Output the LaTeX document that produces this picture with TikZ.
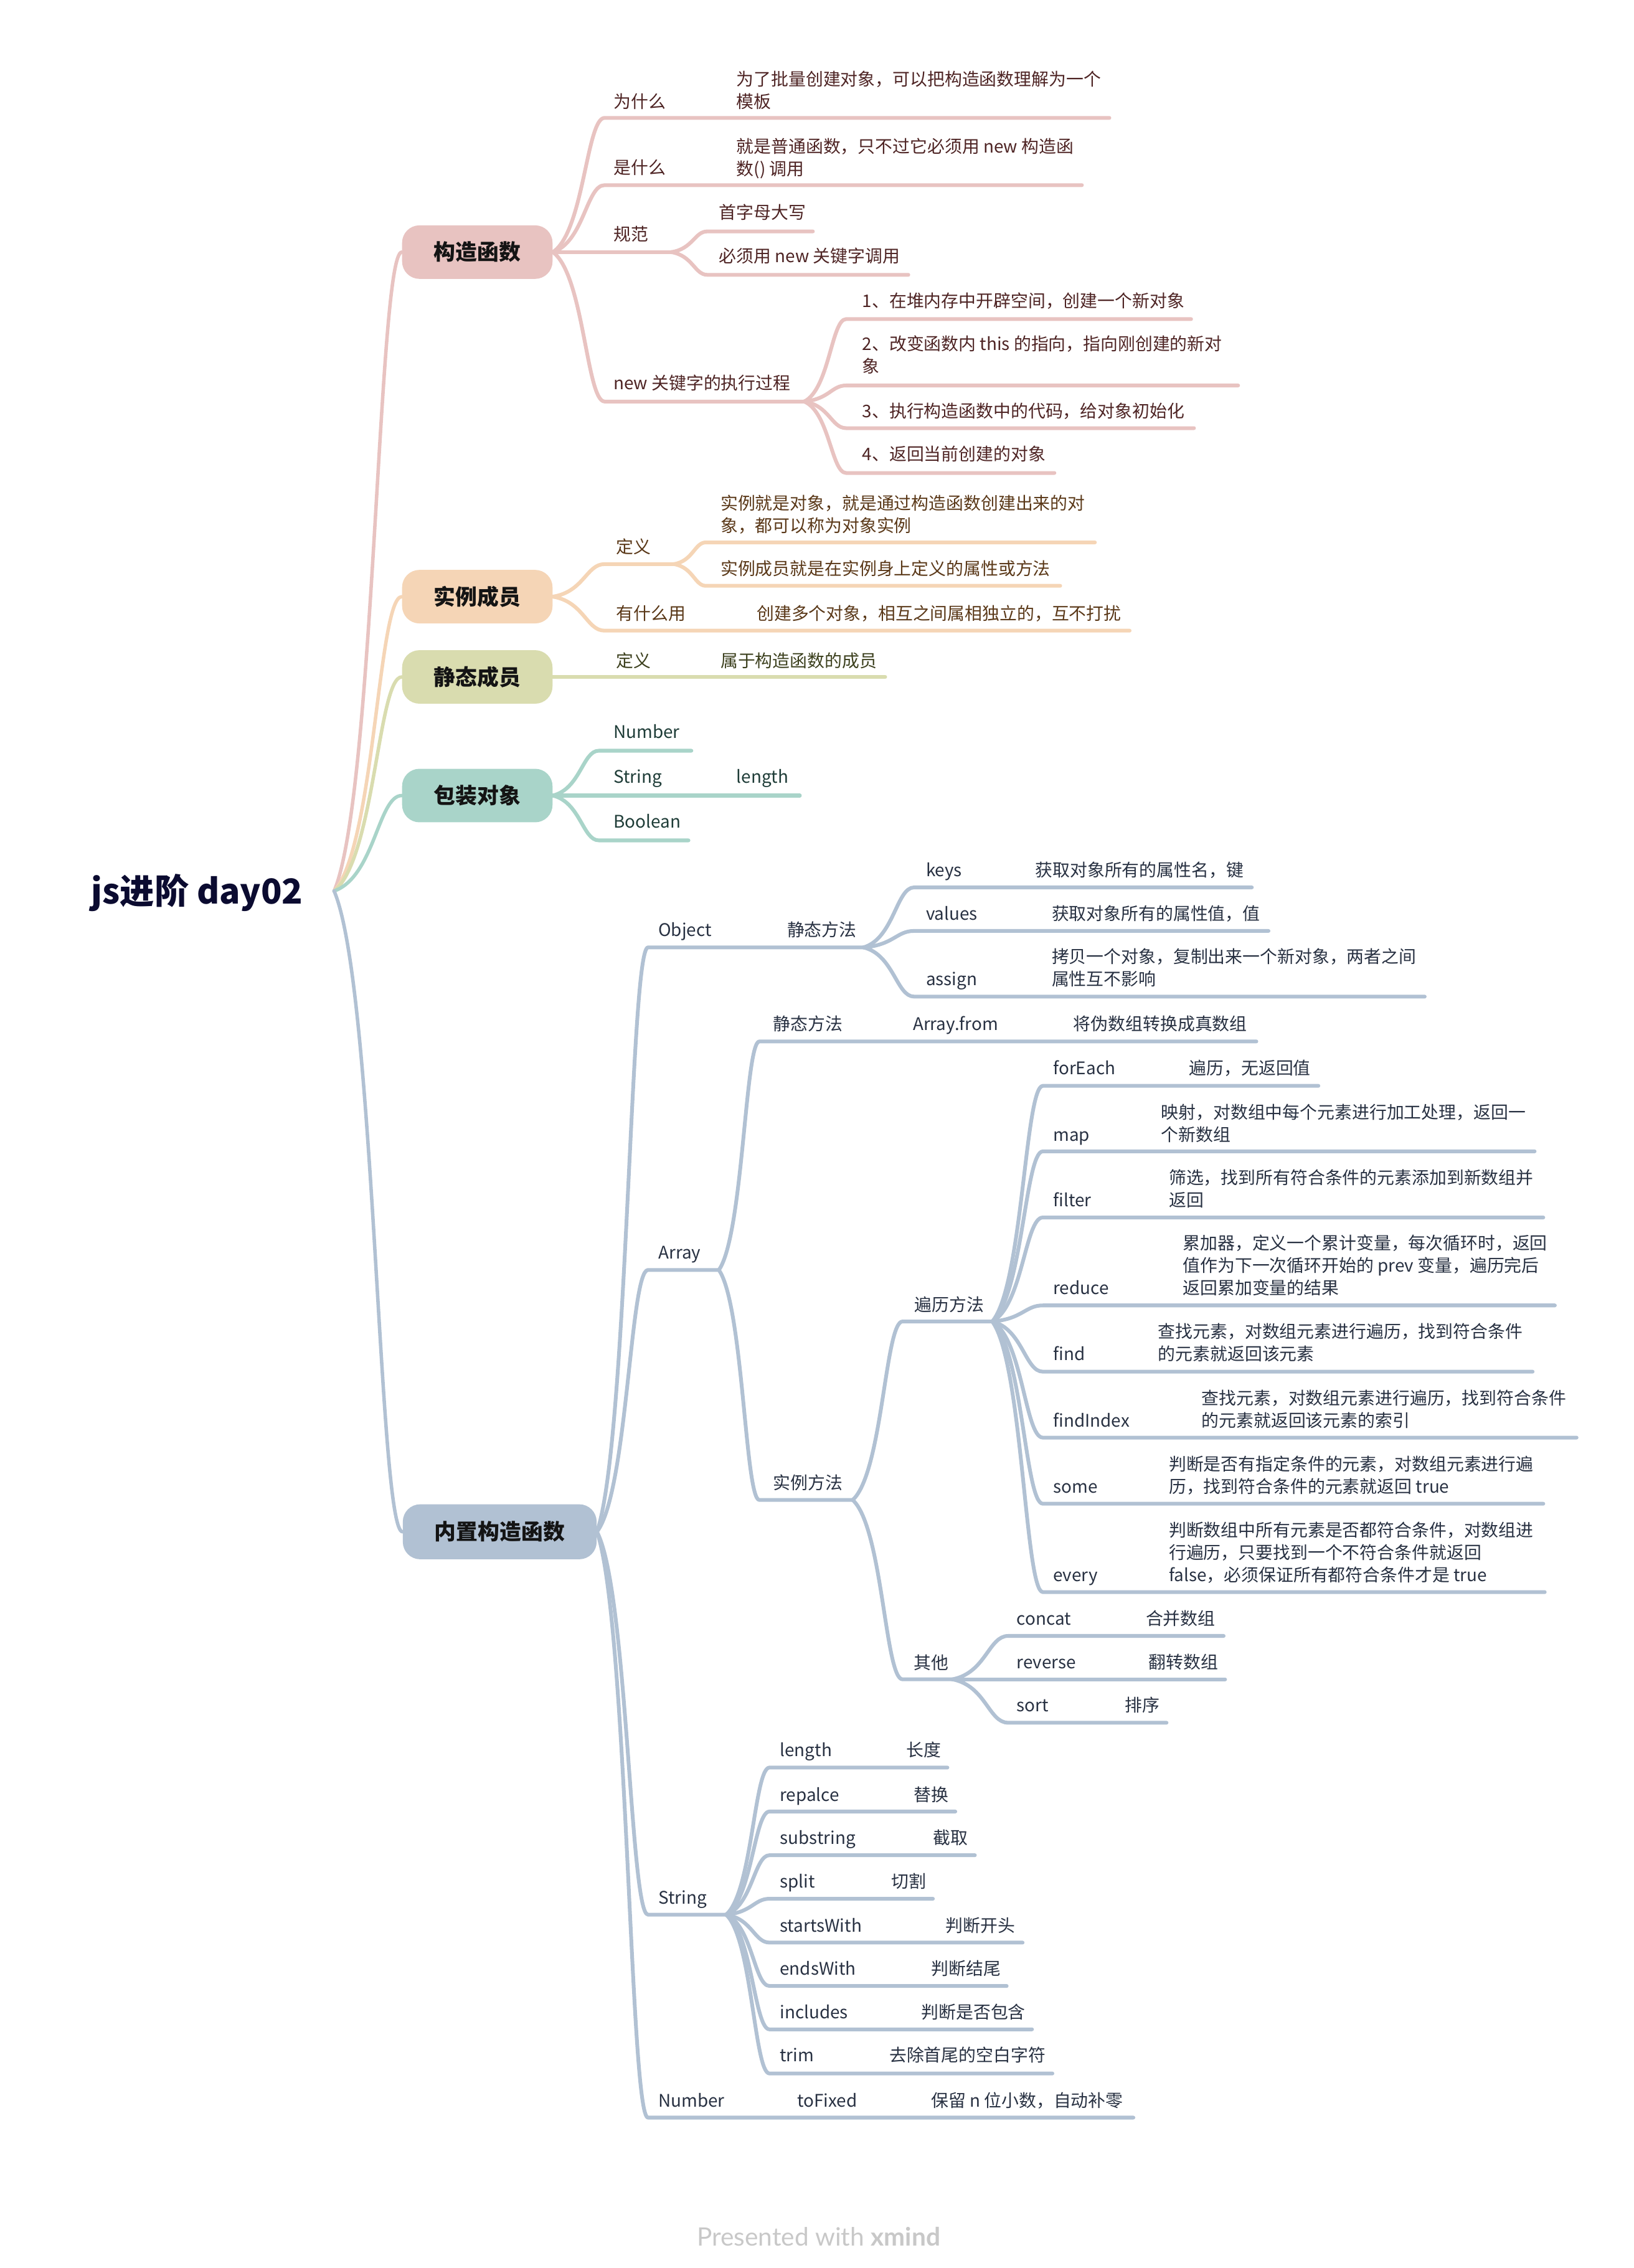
\documentclass[tikz,border=0pt]{standalone}
\usepackage{fontspec}
\setmainfont{Noto Sans CJK SC}
\newfontfamily\footfont{Lato}
\usetikzlibrary{calc}
\pgfdeclarelayer{bg}
\pgfsetlayers{bg,main}
\definecolor{rootc}{HTML}{0B0B30}
\definecolor{pkf}{HTML}{E8C3C1}
\definecolor{pkt}{HTML}{4E2424}
\definecolor{orf}{HTML}{F5D5B6}
\definecolor{ort}{HTML}{5A3818}
\definecolor{olf}{HTML}{D9DCAF}
\definecolor{olt}{HTML}{3C401E}
\definecolor{tlf}{HTML}{A9D4C9}
\definecolor{tlt}{HTML}{1E3C37}
\definecolor{blf}{HTML}{B1C1D3}
\definecolor{blt}{HTML}{283142}
\definecolor{footc}{HTML}{C8C8C8}
\newcommand{\ml}[1]{\begin{tabular}[t]{@{}l@{}}#1\end{tabular}}
\tikzset{
  br/.style={line width=2.6pt, line cap=round, line join=round},
  mainbr/.style={line width=2.4pt, line cap=round},
  curvy/.style={to path={let \p1=(\tikztostart), \p2=(\tikztotarget) in
     .. controls ({\x1+0.6*(\x2-\x1)},{\y1+0.15*(\y2-\y1)}) and ({\x1+0.65*(\x2-\x1)},{\y2}) .. (\tikztotarget) \tikztonodes}},
  lbl/.style={anchor=base west, inner sep=0pt, font=\fontsize{12}{15.5}\selectfont},
  pkl/.style={lbl, text=pkt},
  orl/.style={lbl, text=ort},
  oll/.style={lbl, text=olt},
  tll/.style={lbl, text=tlt},
  bll/.style={lbl, text=blt},
  topic/.style={rounded corners=12pt, minimum width=104pt, minimum height=37pt, inner sep=0pt,
     font=\fontsize{15}{18}\selectfont\bfseries, text=black!92},
}
\begin{document}
\begin{tikzpicture}[x=1pt,y=-1pt]
\useasboundingbox (0,0) rectangle (1129.7,1568);

% ---------- root ----------
\node[anchor=base west, inner sep=0pt, font=\fontsize{23.8}{28}\selectfont\bfseries, text=rootc] (root) at (63,625) {js进阶 day02};
\coordinate (r) at (231,616);

% ---------- main topics ----------
\node[topic, fill=pkf] (t1) at (330,174.3) {构造函数};
\node[topic, fill=orf] (t2) at (330,412.5) {实例成员};
\node[topic, fill=olf] (t3) at (330,468) {静态成员};
\node[topic, fill=tlf] (t4) at (330,550) {包装对象};
\node[topic, fill=blf, minimum width=134pt, minimum height=38pt] (t5) at (345.5,1059) {内置构造函数};

% ---------- pink branch ----------
\node[pkl] (a1) at (424,74.5) {为什么};
\node[pkl] (a1c) at (509,59) {\ml{为了批量创建对象，可以把构造函数理解为一个\\模板}};
\coordinate (a1s) at (418,81.5); \coordinate (a1e) at (767,81.5);
\node[pkl] (a2) at (424,120.5) {是什么};
\node[pkl] (a2c) at (509,105.5) {\ml{就是普通函数，只不过它必须用 new 构造函\\数() 调用}};
\coordinate (a2s) at (418,128); \coordinate (a2e) at (748,128);
\node[pkl] (a3) at (424,166.5) {规范};
\coordinate (a3e) at (464,174.3);
\node[pkl] (a31) at (497,151.5) {首字母大写};
\coordinate (a31s) at (489,160); \coordinate (a31e) at (562,160);
\node[pkl] (a32) at (497,181.5) {必须用 new 关键字调用};
\coordinate (a32s) at (489,190); \coordinate (a32e) at (628,190);
\node[pkl] (a4) at (424,269.5) {new 关键字的执行过程};
\coordinate (a4s) at (418,277.6); \coordinate (a4e) at (556,277.6);
\node[pkl] (a41) at (596,212.5) {1、在堆内存中开辟空间，创建一个新对象};
\coordinate (a41s) at (585,220.6); \coordinate (a41e) at (823.5,220.6);
\node[pkl] (a42) at (596,242) {\ml{2、改变函数内 this 的指向，指向刚创建的新对\\象}};
\coordinate (a42s) at (585,266.5); \coordinate (a42e) at (856,266.5);
\node[pkl] (a43) at (596,288.5) {3、执行构造函数中的代码，给对象初始化};
\coordinate (a43s) at (585,296); \coordinate (a43e) at (825.5,296);
\node[pkl] (a44) at (596,318.5) {4、返回当前创建的对象};
\coordinate (a44s) at (585,327); \coordinate (a44e) at (729,327);

% ---------- orange branch ----------
\node[orl] (b1) at (426,382.5) {定义};
\coordinate (b1s) at (418,390); \coordinate (b1e) at (466,390);
\node[orl] (b11) at (498,352.5) {\ml{实例就是对象，就是通过构造函数创建出来的对\\象，都可以称为对象实例}};
\coordinate (b11s) at (488,375); \coordinate (b11e) at (757,375);
\node[orl] (b12) at (498,397.5) {实例成员就是在实例身上定义的属性或方法};
\coordinate (b12s) at (488,405); \coordinate (b12e) at (733,405);
\node[orl] (b2) at (426,428.5) {有什么用};
\node[orl] (b2c) at (523,428.5) {创建多个对象，相互之间属相独立的，互不打扰};
\coordinate (b2s) at (418,436); \coordinate (b2e) at (781,436);

% ---------- olive branch ----------
\node[oll] (c1) at (426,461.5) {定义};
\node[oll] (c1c) at (498,461.5) {属于构造函数的成员};
\coordinate (c1e) at (612,468);

% ---------- teal branch ----------
\node[tll] (d1) at (424,510.5) {Number};
\coordinate (d1s) at (414,519); \coordinate (d1e) at (478,519);
\node[tll] (d2) at (424,541.5) {String};
\node[tll] (d2c) at (509,541.5) {length};
\coordinate (d2e) at (553,550);
\node[tll] (d3) at (424,572.5) {Boolean};
\coordinate (d3s) at (414,581); \coordinate (d3e) at (476,581);

% ---------- blue branch: Object ----------
\node[bll] (e1) at (455,647.5) {Object};
\node[bll] (e1c) at (544,647.5) {静态方法};
\coordinate (e1s) at (448,655); \coordinate (e1e) at (597,655);
\node[bll] (e11) at (640,606) {keys};
\node[bll] (e11c) at (715.6,606) {获取对象所有的属性名，键};
\coordinate (e11s) at (632,613.5); \coordinate (e11e) at (865.5,613.5);
\node[bll] (e12) at (640,636) {values};
\node[bll] (e12c) at (727,636) {获取对象所有的属性值，值};
\coordinate (e12s) at (632,643.6); \coordinate (e12e) at (877,643.6);
\node[bll] (e13) at (640,681.5) {assign};
\node[bll] (e13c) at (727,666) {\ml{拷贝一个对象，复制出来一个新对象，两者之间\\属性互不影响}};
\coordinate (e13s) at (632,689); \coordinate (e13e) at (985,689);

% ---------- Array ----------
\node[bll] (e2) at (455,870.5) {Array};
\coordinate (e2s) at (448,878); \coordinate (e2e) at (497,878);
\node[bll] (f1) at (534.5,712.5) {静态方法};
\node[bll] (f1c) at (631,712.5) {Array.from};
\node[bll] (f1cc) at (742,712.5) {将伪数组转换成真数组};
\coordinate (f1s) at (525,720); \coordinate (f1e) at (868.6,720);
\node[bll] (f2) at (534.5,1029.5) {实例方法};
\coordinate (f2s) at (525,1037); \coordinate (f2e) at (589.5,1037);
\node[bll] (g1) at (632,906.5) {遍历方法};
\coordinate (g1s) at (624,913.6); \coordinate (g1e) at (686,913.6);
\node[bll] (h1) at (728,743) {forEach};
\node[bll] (h1c) at (822,743) {遍历，无返回值};
\coordinate (h1s) at (721,750.7); \coordinate (h1e) at (911.5,750.7);
\node[bll] (h2) at (728,789) {map};
\node[bll] (h2c) at (802.6,773.5) {\ml{映射，对数组中每个元素进行加工处理，返回一\\个新数组}};
\coordinate (h2s) at (721,796); \coordinate (h2e) at (1061,796);
\node[bll] (h3) at (728,834) {filter};
\node[bll] (h3c) at (808,818.5) {\ml{筛选，找到所有符合条件的元素添加到新数组并\\返回}};
\coordinate (h3s) at (721,841.7); \coordinate (h3e) at (1067,841.7);
\node[bll] (h4) at (728,895) {reduce};
\node[bll] (h4c) at (817.6,864) {\ml{累加器，定义一个累计变量，每次循环时，返回\\值作为下一次循环开始的 prev 变量，遍历完后\\返回累加变量的结果}};
\coordinate (h4s) at (721,902.5); \coordinate (h4e) at (1075,902.5);
\node[bll] (h5) at (728,940.5) {find};
\node[bll] (h5c) at (800.5,925) {\ml{查找元素，对数组元素进行遍历，找到符合条件\\的元素就返回该元素}};
\coordinate (h5s) at (721,948.3); \coordinate (h5e) at (1059.6,948.3);
\node[bll] (h6) at (728,986.5) {findIndex};
\node[bll] (h6c) at (830.6,971) {\ml{查找元素，对数组元素进行遍历，找到符合条件\\的元素就返回该元素的索引}};
\coordinate (h6s) at (721,993.9); \coordinate (h6e) at (1090,993.9);
\node[bll] (h7) at (728,1032) {some};
\node[bll] (h7c) at (808,1016.5) {\ml{判断是否有指定条件的元素，对数组元素进行遍\\历，找到符合条件的元素就返回 true}};
\coordinate (h7s) at (721,1039.6); \coordinate (h7e) at (1067,1039.6);
\node[bll] (h8) at (728,1093.5) {every};
\node[bll] (h8c) at (808,1062.5) {\ml{判断数组中所有元素是否都符合条件，对数组进\\行遍历，只要找到一个不符合条件就返回\\false，必须保证所有都符合条件才是 true}};
\coordinate (h8s) at (721,1100.7); \coordinate (h8e) at (1068,1100.7);
\node[bll] (g2) at (631.6,1154) {其他};
\coordinate (g2s) at (624,1161); \coordinate (g2e) at (658.5,1161);
\node[bll] (i1) at (702.7,1123.5) {concat};
\node[bll] (i1c) at (792,1123.5) {合并数组};
\coordinate (i1s) at (697,1131); \coordinate (i1e) at (846,1131);
\node[bll] (i2) at (702.7,1153.5) {reverse};
\node[bll] (i2c) at (794,1153.5) {翻转数组};
\coordinate (i2e) at (847,1161);
\node[bll] (i3) at (702.7,1183.5) {sort};
\node[bll] (i3c) at (777.6,1183.5) {排序};
\coordinate (i3s) at (697,1191); \coordinate (i3e) at (806.5,1191);

% ---------- String ----------
\node[bll] (e3) at (455,1316.3) {String};
\coordinate (e3s) at (448,1323.7); \coordinate (e3e) at (502,1323.7);
\node[bll] (j1) at (539,1214.5) {length};
\node[bll] (j1c) at (626.5,1214.5) {长度};
\coordinate (j1s) at (532,1222); \coordinate (j1e) at (655,1222);
\node[bll] (j2) at (539,1245.2) {repalce};
\node[bll] (j2c) at (631.5,1245.2) {替换};
\coordinate (j2s) at (532,1252.4); \coordinate (j2e) at (660.5,1252.4);
\node[bll] (j3) at (539,1275) {substring};
\node[bll] (j3c) at (645,1275) {截取};
\coordinate (j3s) at (532,1282.6); \coordinate (j3e) at (674,1282.6);
\node[bll] (j4) at (539,1305.1) {split};
\node[bll] (j4c) at (616,1305.1) {切割};
\coordinate (j4s) at (532,1312.7); \coordinate (j4e) at (645,1312.7);
\node[bll] (j5) at (539,1335.5) {startsWith};
\node[bll] (j5c) at (653.6,1335.5) {判断开头};
\coordinate (j5s) at (532,1343); \coordinate (j5e) at (707,1343);
\node[bll] (j6) at (539,1365.3) {endsWith};
\node[bll] (j6c) at (643.7,1365.3) {判断结尾};
\coordinate (j6s) at (532,1373); \coordinate (j6e) at (696,1373);
\node[bll] (j7) at (539,1395.5) {includes};
\node[bll] (j7c) at (636.8,1395.5) {判断是否包含};
\coordinate (j7s) at (532,1403); \coordinate (j7e) at (713.5,1403);
\node[bll] (j8) at (539,1425.3) {trim};
\node[bll] (j8c) at (614.7,1425.3) {去除首尾的空白字符};
\coordinate (j8s) at (532,1433.5); \coordinate (j8e) at (727.6,1433.5);

% ---------- Number ----------
\node[bll] (e4) at (455,1456.5) {Number};
\node[bll] (e4c) at (551,1456.5) {toFixed};
\node[bll] (e4cc) at (643.6,1456.5) {保留 n 位小数，自动补零};
\coordinate (e4s) at (448,1464); \coordinate (e4e) at (783.6,1464);

% ---------- footer ----------
\node[anchor=base, inner sep=0pt, text=footc, font=\footfont\fontsize{17.5}{20}\selectfont] (foot) at (566,1552.5) {Presented with {\bfseries xmind}};

% ================= connectors =================
\begin{pgfonlayer}{bg}
% root to main topics
\draw[mainbr, pkf] (r) to[curvy] (t1.west);
\draw[mainbr, orf] (r) to[curvy] (t2.west);
\draw[mainbr, olf] (r) to[curvy] (t3.west);
\draw[mainbr, tlf] (r) to[curvy] (t4.west);
\draw[mainbr, blf] (r) to[curvy] (t5.west);

% pink
\draw[br, pkf] (t1.east) to[curvy] (a1s) -- (a1e);
\draw[br, pkf] (t1.east) to[curvy] (a2s) -- (a2e);
\draw[br, pkf] (t1.east) -- (a3e);
\draw[br, pkf] (a3e) to[curvy] (a31s) -- (a31e);
\draw[br, pkf] (a3e) to[curvy] (a32s) -- (a32e);
\draw[br, pkf] (t1.east) to[curvy] (a4s) -- (a4e);
\draw[br, pkf] (a4e) to[curvy] (a41s) -- (a41e);
\draw[br, pkf] (a4e) to[curvy] (a42s) -- (a42e);
\draw[br, pkf] (a4e) to[curvy] (a43s) -- (a43e);
\draw[br, pkf] (a4e) to[curvy] (a44s) -- (a44e);

% orange
\draw[br, orf] (t2.east) to[curvy] (b1s) -- (b1e);
\draw[br, orf] (b1e) to[curvy] (b11s) -- (b11e);
\draw[br, orf] (b1e) to[curvy] (b12s) -- (b12e);
\draw[br, orf] (t2.east) to[curvy] (b2s) -- (b2e);

% olive
\draw[br, olf] (t3.east) -- (c1e);

% teal
\draw[br, tlf] (t4.east) to[curvy] (d1s) -- (d1e);
\draw[br, tlf] (t4.east) -- (d2e);
\draw[br, tlf] (t4.east) to[curvy] (d3s) -- (d3e);

% blue
\draw[br, blf] (t5.east) to[curvy] (e1s) -- (e1e);
\draw[br, blf] (e1e) to[curvy] (e11s) -- (e11e);
\draw[br, blf] (e1e) to[curvy] (e12s) -- (e12e);
\draw[br, blf] (e1e) to[curvy] (e13s) -- (e13e);
\draw[br, blf] (t5.east) to[curvy] (e2s) -- (e2e);
\draw[br, blf] (e2e) to[curvy] (f1s) -- (f1e);
\draw[br, blf] (e2e) to[curvy] (f2s) -- (f2e);
\draw[br, blf] (f2e) to[curvy] (g1s) -- (g1e);
\foreach \k in {h1,h2,h3,h4,h5,h6,h7,h8}
  \draw[br, blf] (g1e) to[curvy] (\k s) -- (\k e);
\draw[br, blf] (f2e) to[curvy] (g2s) -- (g2e);
\draw[br, blf] (g2e) to[curvy] (i1s) -- (i1e);
\draw[br, blf] (g2e) -- (i2e);
\draw[br, blf] (g2e) to[curvy] (i3s) -- (i3e);
\draw[br, blf] (t5.east) to[curvy] (e3s) -- (e3e);
\foreach \k in {j1,j2,j3,j4,j5,j6,j7,j8}
  \draw[br, blf] (e3e) to[curvy] (\k s) -- (\k e);
\draw[br, blf] (t5.east) to[curvy] (e4s) -- (e4e);
\end{pgfonlayer}
\end{tikzpicture}
\end{document}
